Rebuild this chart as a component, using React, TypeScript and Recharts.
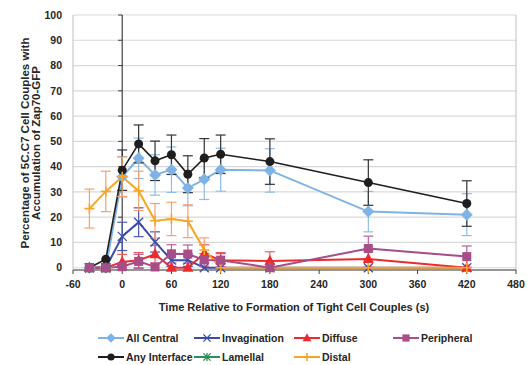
import { LineChart, Line, XAxis, YAxis, CartesianGrid, ErrorBar, ReferenceLine, Label } from "recharts";

const times = [-40, -20, 0, 20, 40, 60, 80, 100, 120, 180, 300, 420];
const xTicks = [-60, 0, 60, 120, 180, 240, 300, 360, 420, 480];
const yTicks = [0, 10, 20, 30, 40, 50, 60, 70, 80, 90, 100];

const allCentral = [0, 0, 36, 43.3, 36.7, 38.8, 31.5, 35, 38.8, 38.5, 22.2, 21];
const allCentralErr = [0, 0, 8, 8, 8, 9, 7, 8, 8.5, 8.6, 8, 8.3];
const anyInterface = [0, 3.4, 38.6, 49, 42.3, 44.7, 37, 43.4, 44.9, 42, 33.7, 25.4];
const anyInterfaceErr = [0, 0, 8, 7.5, 7.8, 7.8, 7.3, 7.7, 7.6, 9, 9, 9];
const invagination = [0, 0, 12.4, 18, 10.2, 3, 3, 0, 0, 0, 0, 0];
const invaginationErr = [0, 0, 5.6, 5.7, 4, 2.5, 2.5, 0, 0, 0, 0, 0];
const lamellal = [0, 0, null, null, null, null, null, null, null, null, null, null];
const diffuse = [0, 0, 2.3, 3, 5.3, 0, 0, 5.6, 3, 2.7, 3.5, 0];
const diffuseErr = [0, 0, 3, 3, 3.5, 0, 0, 3.5, 3, 3.6, 3.2, 0];
const distal = [23.4, 30.2, 36, 30.4, 18.6, 19.3, 18.4, 7, 0, 0, 0, 0];
const distalErr = [7.7, 8, 7.8, 7.8, 6.8, 6.6, 6.5, 4.8, 0, 0, 0, 0];
const peripheral = [0, 0, 0.4, 2.5, 0.3, 5.5, 5.4, 3.1, 3, 0, 7.6, 4.4];
const peripheralErr = [0, 0, 0, 2.8, 0, 3.6, 3.6, 2.5, 2.6, 0, 4.9, 4.2];

const data = times.map((t, i) => ({
    t,
    allCentral: allCentral[i], allCentralErr: allCentralErr[i],
    anyInterface: anyInterface[i], anyInterfaceErr: anyInterfaceErr[i],
    invagination: invagination[i], invaginationErr: invaginationErr[i],
    lamellal: lamellal[i],
    diffuse: diffuse[i], diffuseErr: diffuseErr[i],
    distal: distal[i], distalErr: distalErr[i],
    peripheral: peripheral[i], peripheralErr: peripheralErr[i],
}));

const FONT = "'Liberation Sans', Arial, sans-serif";
const C = {
    allCentral: "#7fb2e5",
    anyInterface: "#1e1e1e",
    invagination: "#3b4ba8",
    lamellal: "#2f8f5a",
    diffuse: "#ee2a2f",
    distal: "#f8a62a",
    peripheral: "#a74d88",
};

type Shape = "diamond" | "circle" | "x" | "star" | "triangle" | "plus" | "square";

function Marker({ shape, cx, cy, color, s = 1 }: { shape: Shape; cx: number; cy: number; color: string; s?: number }) {
    switch (shape) {
        case "diamond":
            return <path d={`M${cx},${cy - 6 * s}L${cx + 6 * s},${cy}L${cx},${cy + 6 * s}L${cx - 6 * s},${cy}Z`} fill={color} />;
        case "circle":
            return <circle cx={cx} cy={cy} r={4.5 * s} fill={color} />;
        case "x":
            return <path d={`M${cx - 4.5 * s},${cy - 4.5 * s}L${cx + 4.5 * s},${cy + 4.5 * s}M${cx + 4.5 * s},${cy - 4.5 * s}L${cx - 4.5 * s},${cy + 4.5 * s}`} stroke={color} strokeWidth={1.3} fill="none" />;
        case "star":
            return (
                <g>
                    {s === 1 && <rect x={cx - 4.5} y={cy - 4.5} width={9} height={9} fill="#1f3b2b" />}
                    <path d={`M${cx - 4.5 * s},${cy - 4.5 * s}L${cx + 4.5 * s},${cy + 4.5 * s}M${cx + 4.5 * s},${cy - 4.5 * s}L${cx - 4.5 * s},${cy + 4.5 * s}M${cx},${cy - 5 * s}L${cx},${cy + 5 * s}`} stroke={color} strokeWidth={1.3} fill="none" />
                </g>
            );
        case "triangle":
            return <path d={`M${cx},${cy - 6 * s}L${cx + 5.5 * s},${cy + 4 * s}L${cx - 5.5 * s},${cy + 4 * s}Z`} fill={color} />;
        case "plus":
            return <path d={`M${cx - 5 * s},${cy}L${cx + 5 * s},${cy}M${cx},${cy - 5 * s}L${cx},${cy + 5 * s}`} stroke={color} strokeWidth={1.6} fill="none" />;
        case "square":
            return <rect x={cx - 4.5 * s} y={cy - 4.5 * s} width={9 * s} height={9 * s} fill={color} />;
    }
}

const dot = (shape: Shape, color: string) => (props: any) => {
    const { cx, cy, index } = props;
    if (cx == null || cy == null || props.value == null) return <g key={index} />;
    return <g key={index}><Marker shape={shape} cx={cx} cy={cy} color={color} /></g>;
};

const series: { key: string; name: string; color: string; shape: Shape; width: number; err?: string; errColor?: string }[] = [
    { key: "allCentral", name: "All Central", color: C.allCentral, shape: "diamond", width: 2, err: "allCentralErr", errColor: "#8fbde8" },
    { key: "anyInterface", name: "Any Interface", color: C.anyInterface, shape: "circle", width: 1.6, err: "anyInterfaceErr", errColor: "#333333" },
    { key: "invagination", name: "Invagination", color: C.invagination, shape: "x", width: 2, err: "invaginationErr", errColor: "#4a5ab5" },
    { key: "lamellal", name: "Lamellal", color: C.lamellal, shape: "star", width: 2 },
    { key: "diffuse", name: "Diffuse", color: C.diffuse, shape: "triangle", width: 2, err: "diffuseErr", errColor: "#f05a5a" },
    { key: "distal", name: "Distal", color: C.distal, shape: "plus", width: 2, err: "distalErr", errColor: "#f7a070" },
    { key: "peripheral", name: "Peripheral", color: C.peripheral, shape: "square", width: 2, err: "peripheralErr", errColor: "#b8609a" },
];

const legendRows = [
    ["allCentral", "invagination", "diffuse", "peripheral"],
    ["anyInterface", "lamellal", "distal"],
];
const legendCols = [98, 194, 294, 393];

function ChartLegend() {
    return (
        <svg width={531} height={45} style={{ position: "absolute", left: 0, top: 325 }}>
            {legendRows.map((row, r) =>
                row.map((k, c) => {
                    const s = series.find(x => x.key === k)!;
                    const y = 13 + r * 19;
                    const x0 = legendCols[c];
                    return (
                        <g key={k}>
                            <line x1={x0} x2={x0 + 26} y1={y} y2={y} stroke={s.color} strokeWidth={2} />
                            <Marker shape={s.shape} cx={x0 + 13} cy={y} color={s.color} s={0.8} />
                            <text x={x0 + 28} y={y + 4} fontSize={10.5} fontWeight="bold" fill="#262626" fontFamily={FONT}>{s.name}</text>
                        </g>
                    );
                })
            )}
        </svg>
    );
}

export default function App() {
    const tick = { fontSize: 10.5, fontWeight: "bold", fill: "#262626", fontFamily: FONT };
    return (
        <div style={{ position: "absolute", left: 0, top: 0, width: 531, height: 365, background: "#fff" }}>
            <LineChart width={531} height={365} data={data} margin={{ top: 15, right: 15, left: 13, bottom: 75 }}>
                <CartesianGrid vertical={false} stroke="#d9d9d9" strokeWidth={1.2} />
                <XAxis
                    dataKey="t"
                    type="number"
                    domain={[-60, 480]}
                    ticks={xTicks}
                    height={20}
                    tick={tick}
                    tickSize={4}
                    tickMargin={7}
                    stroke="#404040"
                    interval={0}
                >
                    <Label
                        content={() => (
                            <text x={294} y={311} textAnchor="middle" fontSize={11} fontWeight="bold" fill="#262626" fontFamily={FONT}>
                                Time Relative to Formation of Tight Cell Couples (s)
                            </text>
                        )}
                    />
                </XAxis>
                <YAxis
                    type="number"
                    domain={[0, 100]}
                    ticks={yTicks}
                    width={60}
                    tick={tick}
                    tickLine={false}
                    tickSize={0}
                    tickMargin={11}
                    stroke="#bfbfbf"
                    interval={0}
                >
                    <Label
                        content={() => (
                            <text transform="translate(0,143) rotate(-90)" textAnchor="middle" fontSize={11.5} fontWeight="bold" fill="#262626" fontFamily={FONT}>
                                <tspan x={0} y={29}>Percentage of 5C.C7 Cell Couples with</tspan>
                                <tspan x={0} y={40}>Accumulation of Zap70-GFP</tspan>
                            </text>
                        )}
                    />
                </YAxis>
                <ReferenceLine x={480} stroke="#bfbfbf" />
                <ReferenceLine x={0} stroke="#404040" strokeWidth={1.2} />
                {yTicks.map(v => (
                    <ReferenceLine key={v} segment={[{ x: -5, y: v }, { x: 0, y: v }]} stroke="#404040" />
                ))}
                {series.map(s => (
                    <Line
                        key={s.key}
                        dataKey={s.key}
                        name={s.name}
                        stroke={s.color}
                        strokeWidth={s.width}
                        dot={dot(s.shape, s.color)}
                        activeDot={false}
                        isAnimationActive={false}
                        connectNulls={false}
                    >
                        {s.err && <ErrorBar dataKey={s.err} width={5} stroke={s.errColor} strokeWidth={1.2} direction="y" />}
                    </Line>
                ))}
            </LineChart>
            <ChartLegend />
        </div>
    );
}
